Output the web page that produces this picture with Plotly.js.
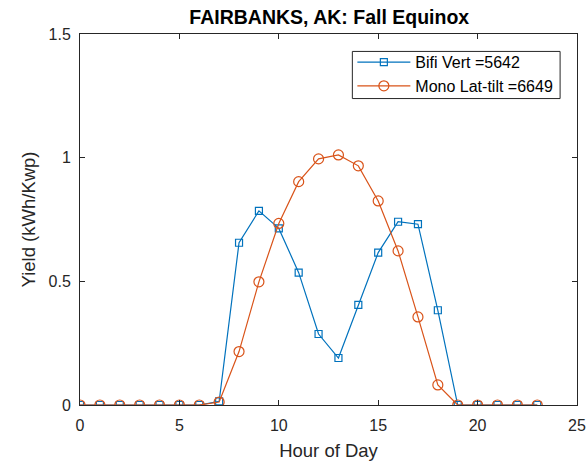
<!DOCTYPE html>
<html><head><meta charset="utf-8">
<script src="https://cdn.plot.ly/plotly-3.0.1.min.js"></script>
<style>body{margin:0;padding:0;background:#fff}#chart{width:588px;height:462px}</style>
</head><body><div id="chart"></div>
<script>
const hours = [0,1,2,3,4,5,6,7,8,9,10,11,12,13,14,15,16,17,18,19,20,21,22,23];
const bifiVert = [0,0,0,0,0,0,0,0.015,0.656,0.785,0.714,0.535,0.287,0.19,0.405,0.616,0.741,0.731,0.383,0,0,0,0,0];
const monoLatTilt = [0,0,0,0,0,0,0,0.012,0.216,0.498,0.734,0.903,0.995,1.011,0.967,0.825,0.623,0.356,0.081,0,0,0,0,0];
const seriesNames = ['Bifi Vert =5642','Mono Lat-tilt =6649'];
const xTicks = [0,5,10,15,20,25];
const yTicks = [0,0.5,1,1.5];
const yTickLabels = ['0','0.5','1','1.5'];

const axisColor = '#262626';
const fam = '"Liberation Sans", Arial, sans-serif';
const tickFont = {family:fam, size:16, color:axisColor};
const traces = [
  {x:hours, y:bifiVert, name:seriesNames[0], mode:'lines+markers', type:'scatter',
   line:{color:'#0072BD', width:1.2},
   marker:{symbol:'square-open', size:7, color:'#0072BD', line:{width:1.2}}},
  {x:hours, y:monoLatTilt, name:seriesNames[1], mode:'lines+markers', type:'scatter',
   line:{color:'#D95319', width:1.2},
   marker:{symbol:'circle-open', size:10, color:'#D95319', line:{width:1.2}}}
];
const axisCommon = {showgrid:false, zeroline:false, showline:true, linecolor:axisColor, linewidth:1,
  mirror:'allticks', ticks:'inside', ticklen:5, tickcolor:axisColor, tickfont:tickFont};
const layout = {
  width:588, height:462,
  margin:{l:80, r:11, t:34, b:57},
  paper_bgcolor:'#fff', plot_bgcolor:'#fff',
  font:tickFont,
  title:{text:'<b>FAIRBANKS, AK: Fall Equinox</b>', x:0.56, xanchor:'center', y:0.962, yanchor:'middle',
    font:{family:fam, size:19.5, color:'#000'}},
  xaxis:Object.assign({}, axisCommon, {range:[0,25], tickvals:xTicks, ticktext:xTicks.map(String),
    ticklabelstandoff:6,
    title:{text:'Hour of Day', font:{family:fam, size:18.5, color:axisColor}, standoff:10}}),
  yaxis:Object.assign({}, axisCommon, {range:[0,1.5], tickvals:yTicks, ticktext:yTickLabels,
    ticklabelstandoff:5,
    title:{text:'Yield (kWh/Kwp)', font:{family:fam, size:18.5, color:axisColor}, standoff:8}}),
  shapes:[{type:'rect', xref:'paper', yref:'paper', x0:0.548, x1:0.966, y0:0.826, y1:0.953,
    line:{color:axisColor, width:1}, fillcolor:'#fff', layer:'below'}],
  legend:{x:0.548, y:0.97, xanchor:'left', yanchor:'top', bgcolor:'rgba(0,0,0,0)', borderwidth:0,
    font:{family:fam, size:16, color:'#000'}, tracegroupgap:0, itemwidth:53},
  showlegend:true
};
Plotly.newPlot('chart', traces, layout, {displayModeBar:false, staticPlot:true});
</script></body></html>
